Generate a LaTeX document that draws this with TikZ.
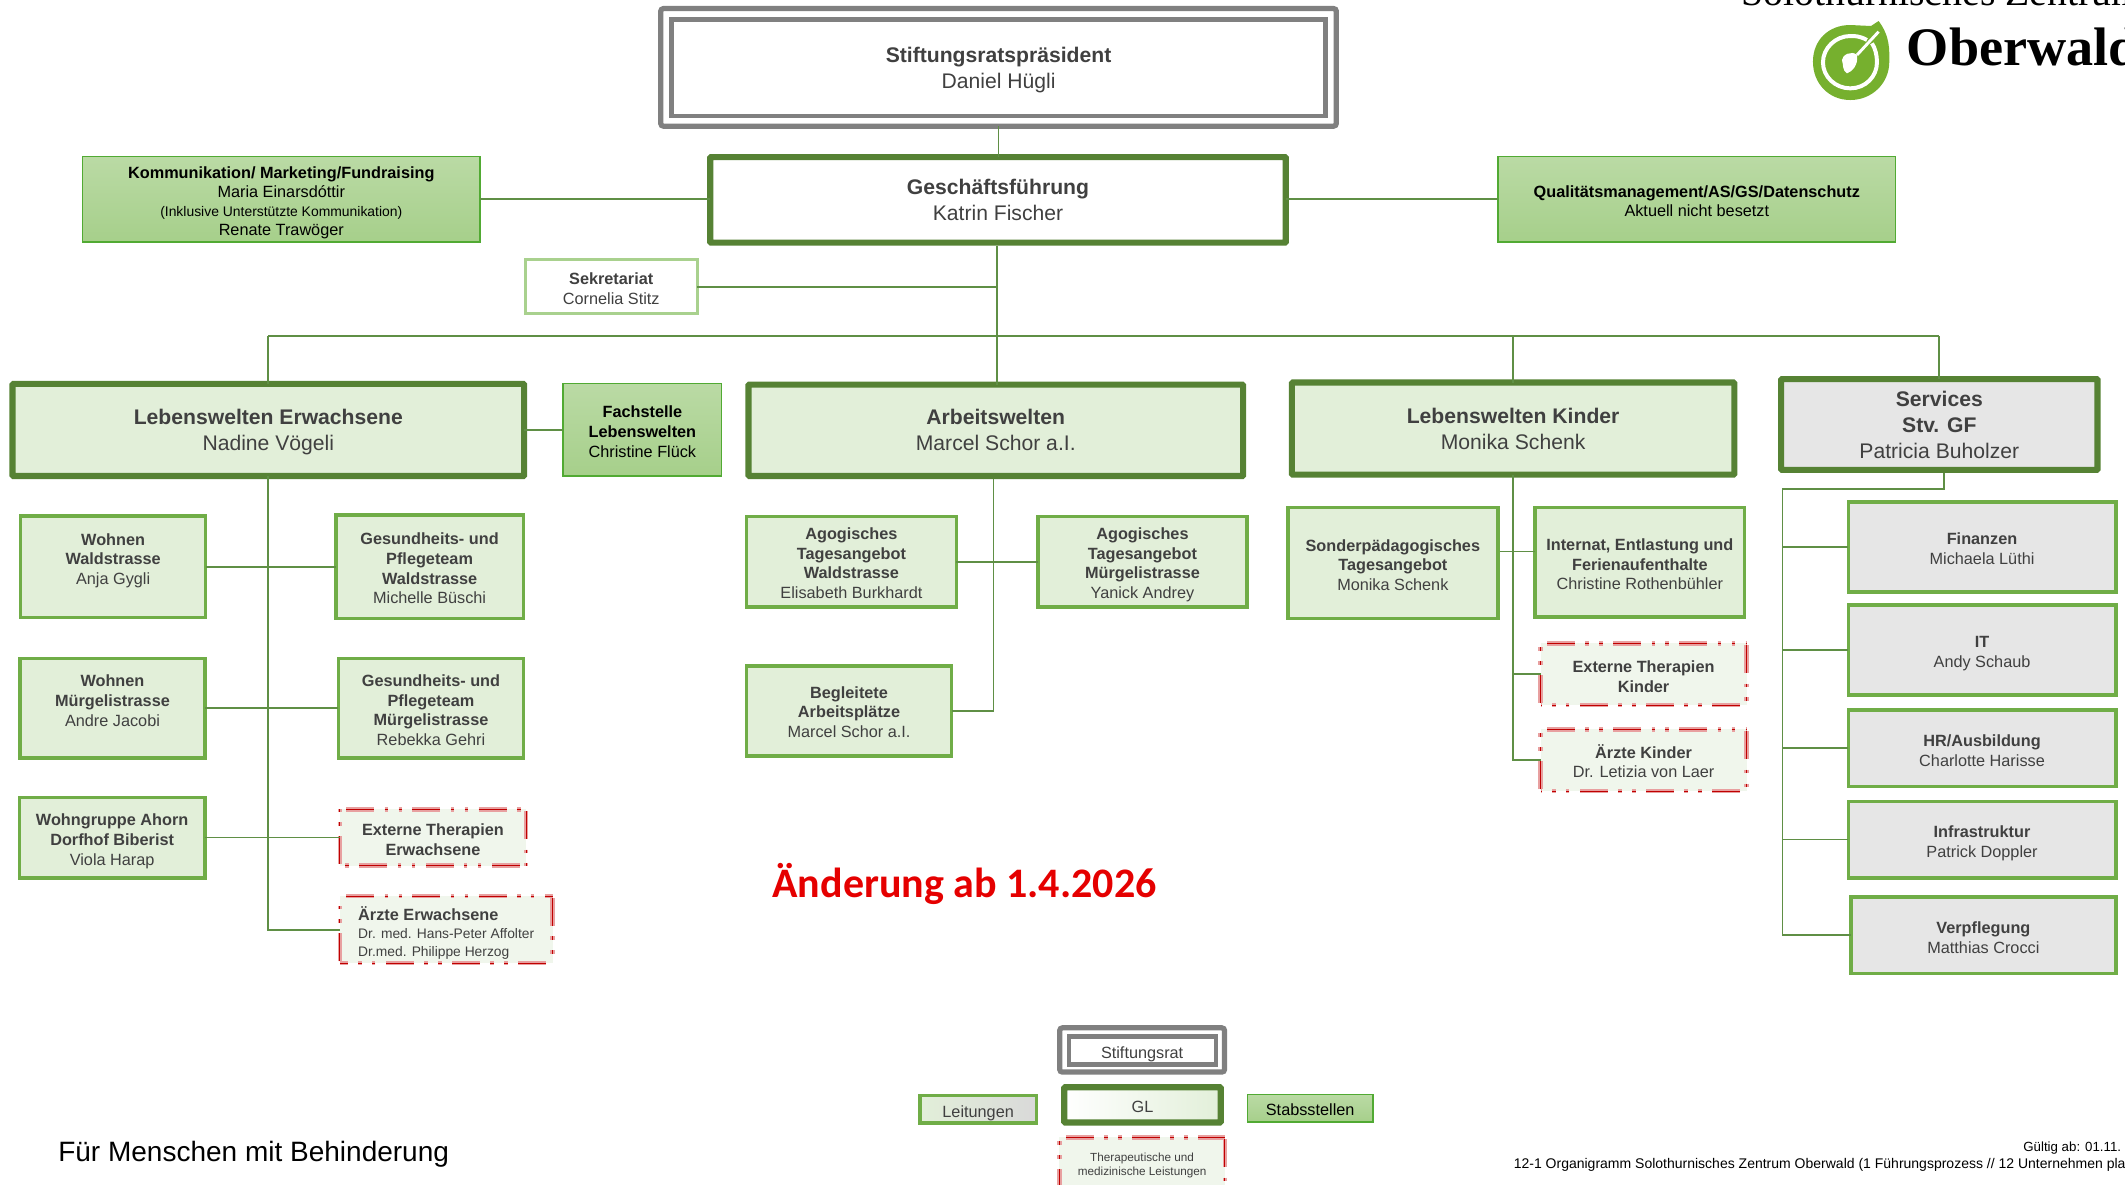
\documentclass[tikz,border=0pt]{standalone}
\usepackage{fontspec}
\setmainfont{Liberation Sans}
\newfontfamily\serifname{Liberation Serif}
\newfontfamily\calname{Carlito}
\definecolor{gdark}{HTML}{568234}
\definecolor{gmid}{HTML}{70AD47}
\definecolor{glight}{HTML}{A9D18E}
\definecolor{gfill}{HTML}{E2EFD9}
\definecolor{gpale}{HTML}{F0F6EC}
\definecolor{grayf}{HTML}{E6E6E6}
\definecolor{grayg}{HTML}{D9D9D9}
\definecolor{frame}{HTML}{808080}
\definecolor{conn}{HTML}{5F8F45}
\definecolor{txt}{HTML}{404040}
\definecolor{logog}{HTML}{76B02E}
\definecolor{redd}{HTML}{C00000}
\definecolor{redl}{HTML}{E8A0A0}
\tikzset{
  base/.style={rectangle,inner sep=0pt,outer sep=0pt,text=txt},
  big/.style={base,font=\fontsize{11.7}{14.4}\selectfont},
  small/.style={base,font=\fontsize{9}{10.9}\selectfont},
  frameout/.style={big,draw=frame,line width=2.9pt,rounded corners=1.5pt,fill=white},
  framein/.style={base,draw=frame,line width=2.5pt},
  lead/.style={big,draw=gdark,line width=3.4pt,rounded corners=.5pt,fill=gfill},
  leadw/.style={lead,fill=white},
  leadg/.style={lead,fill=grayf},
  leadgrad/.style={lead,left color=white,right color=gfill},
  staff/.style={small,text=black,draw=gmid!80!green!90!black,line width=.9pt,top color=glight!80!white,bottom color=glight!95!gmid},
  sub/.style={small,draw=gmid,line width=1.9pt,fill=gfill},
  subg/.style={sub,fill=grayf},
  subgrad/.style={sub,left color=gfill,right color=grayg},
  sek/.style={small,draw=glight,line width=1.5pt,fill=white},
  ext/.style={small,fill=gpale},
  redpat/.style={dash pattern=on 15.5pt off 5.7pt on 2pt off 5.7pt on 2pt off 5.7pt,dash phase=#1},
  redband/.style={draw=redl,line width=2.4pt,redpat=#1,postaction={draw=redd,line width=.6pt,redpat=#1}},
  line/.style={draw=conn,line width=.95pt},
  free/.style={inner sep=0pt,outer sep=0pt,anchor=base west},
}
% [column] name, style, x1, y1, x2, y2, y of the text's centre, text
\newcommand{\bx}[9][c]{%
  \pgfmathsetmacro\bxw{(#6-#4)*.75}%
  \pgfmathsetmacro\bxh{(#7-#5)*.75}%
  \pgfmathsetmacro\bxr{((#5+#7)/2-#8)*.75-4}%
  \node[#3,minimum width=\bxw pt-\pgflinewidth,minimum height=\bxh pt-\pgflinewidth] (#2)
    at ({(#4+#6)/2},{(#5+#7)/2})
    {\raisebox{\bxr pt}[0pt][0pt]{\begin{tabular}{@{}#1@{}}#9\end{tabular}}};}
% the dashed red frame: each side restarts the pattern, running clockwise
\newcommand{\redframe}[1]{%
  \draw[redband=33pt] (#1.north west) -- (#1.north east);
  \draw[redband=35.6pt] (#1.north east) -- (#1.south east);
  \draw[redband=33pt] (#1.south east) -- (#1.south west);
  \draw[redband=35.6pt] (#1.south west) -- (#1.north west);}
\begin{document}
\begin{tikzpicture}[x=.75pt,y=-.75pt]
\useasboundingbox (0,0) rectangle (1568,873.7);
\clip (0,0) rectangle (1568,873.7);

% top
\bx{stift}{frameout}{485.6}{4.4}{988}{95}{50.5}{\textbf{Stiftungsratspräsident}\\Daniel Hügli}
\bx{stifti}{framein}{493.7}{12.8}{979.7}{87.3}{50}{}
\bx{gf}{leadw}{521.8}{113.7}{951}{181.3}{148}{\textbf{Geschäftsführung}\\Katrin Fischer}
\bx{kom}{staff,font=\fontsize{9}{10.4}\selectfont}{60.3}{115}{354.8}{179}{147.5}{\textbf{Kommunikation/ Marketing/Fundraising}\\Maria Einarsdóttir\\{\fontsize{7.7}{9}\selectfont (Inklusive Unterstützte Kommunikation)}\\Renate Trawöger}
\bx{qua}{staff}{1104.8}{115}{1399.3}{179}{147.5}{\textbf{Qualitätsmanagement/AS/GS/Datenschutz}\\Aktuell nicht besetzt}
\bx{sek}{sek}{386.5}{190.6}{515.5}{232.5}{212}{\textbf{Sekretariat}\\Cornelia Stitz}

% second row
\bx{le}{lead}{7}{281}{389}{353.5}{318}{\textbf{Lebenswelten Erwachsene}\\Nadine Vögeli}
\bx{fach}{staff}{415}{282.5}{533}{352}{317.5}{\textbf{Fachstelle}\\\textbf{Lebenswelten}\\Christine Flück}
\bx{aw}{lead}{550}{281.5}{919.5}{353.5}{318}{\textbf{Arbeitswelten}\\Marcel Schor a.I.}
\bx{lk}{lead}{951}{280}{1282}{352.5}{317}{\textbf{Lebenswelten Kinder}\\Monika Schenk}
\bx{sv}{leadg}{1312}{277.5}{1550}{349}{314}{\textbf{Services}\\\textbf{Stv. GF}\\Patricia Buholzer}

% Lebenswelten Erwachsene
\bx{ww}{sub}{14}{379.6}{153}{456.9}{411.5}{\textbf{Wohnen}\\\textbf{Waldstrasse}\\Anja Gygli}
\bx{gw}{sub}{246.5}{378.8}{387.5}{457.6}{418.5}{\textbf{Gesundheits- und}\\\textbf{Pflegeteam}\\\textbf{Waldstrasse}\\Michelle Büschi}
\bx{wm}{sub}{13.5}{484.5}{152.5}{560.5}{516}{\textbf{Wohnen}\\\textbf{Mürgelistrasse}\\Andre Jacobi}
\bx{gm}{sub}{248.5}{484.5}{387.5}{560.5}{523}{\textbf{Gesundheits- und}\\\textbf{Pflegeteam}\\\textbf{Mürgelistrasse}\\Rebekka Gehri}
\bx{wg}{sub}{13}{587}{152.5}{649}{618.5}{\textbf{Wohngruppe Ahorn}\\\textbf{Dorfhof Biberist}\\Viola Harap}
\bx{exe}{ext}{250.5}{597}{388.5}{639}{618.5}{\textbf{Externe Therapien}\\\textbf{Erwachsene}}
\redframe{exe}
\bx[l]{aee}{ext,font=\fontsize{9}{10}\selectfont}{250.5}{661}{408}{711}{687}{\textbf{Ärzte Erwachsene}\\{\fontsize{7.65}{10}\selectfont Dr. med. Hans-Peter Affolter}\\{\fontsize{7.65}{10}\selectfont Dr.med. Philippe Herzog}}
\redframe{aee}

% Arbeitswelten
\bx{agw}{sub}{549.5}{380}{707}{449}{414.5}{\textbf{Agogisches}\\\textbf{Tagesangebot}\\\textbf{Waldstrasse}\\Elisabeth Burkhardt}
\bx{agm}{sub}{764.5}{380}{921.5}{449}{414.5}{\textbf{Agogisches}\\\textbf{Tagesangebot}\\\textbf{Mürgelistrasse}\\Yanick Andrey}
\bx{beg}{sub}{549.5}{490}{703.5}{559}{524.5}{\textbf{Begleitete}\\\textbf{Arbeitsplätze}\\Marcel Schor a.I.}

% Lebenswelten Kinder
\bx{son}{sub}{949}{373}{1106.5}{457.5}{416}{\textbf{Sonderpädagogisches}\\\textbf{Tagesangebot}\\Monika Schenk}
\bx{int}{sub}{1131.5}{373}{1288.5}{456.5}{415.5}{\textbf{Internat, Entlastung und}\\\textbf{Ferienaufenthalte}\\Christine Rothenbühler}
\bx{exk}{ext}{1136.5}{474.5}{1289}{520.5}{498.5}{\textbf{Externe Therapien}\\\textbf{Kinder}}
\redframe{exk}
\bx{aek}{ext}{1136.5}{538}{1289}{584}{561.5}{\textbf{Ärzte Kinder}\\Dr. Letizia von Laer}
\redframe{aek}

% Services
\bx{fin}{subg}{1362.5}{369}{1562.5}{438}{404}{\textbf{Finanzen}\\Michaela Lüthi}
\bx{itb}{subg}{1362.5}{445}{1562.5}{514}{480}{\textbf{IT}\\Andy Schaub}
\bx{hrb}{subg}{1362.5}{522.5}{1562.5}{581.5}{553}{\textbf{HR/Ausbildung}\\Charlotte Harisse}
\bx{inf}{subg}{1362.5}{590}{1562.5}{649}{620}{\textbf{Infrastruktur}\\Patrick Doppler}
\bx{ver}{subg}{1364.5}{660.5}{1562.5}{719.5}{691}{\textbf{Verpflegung}\\Matthias Crocci}

% connectors
\coordinate (gft) at (735.6,181.3);
\coordinate (bus) at (735.6,248);
\coordinate (awt) at (733,353.5);
\coordinate (kr) at (1106.5,407);
\coordinate (svt) at (1434.5,349);
\coordinate (svc) at (1315.3,361);
\draw[line] (stift.south) -- (stift.south |- gf.north);
\draw[line] (kom.east) -- (kom.east -| gf.west);
\draw[line] (qua.west) -- (qua.west -| gf.east);
\draw[line] (gft) -- (gft |- aw.north);
\draw[line] (sek.east) -- (sek.east -| gft);
\draw[line] (le.north |- bus) -- (sv.north |- bus);
\draw[line] (le.north) -- (le.north |- bus);
\draw[line] (lk.north) -- (lk.north |- bus);
\draw[line] (sv.north) -- (sv.north |- bus);
\draw[line] (le.east |- fach.west) -- (fach.west);
\draw[line] (le.south) |- (aee.west);
\draw[line] (ww.east) -- (ww.east -| gw.west);
\draw[line] (wm.east) -- (wm.east -| gm.west);
\draw[line] (wg.east) -- (wg.east -| exe.west);
\draw[line] (awt) |- (beg.east);
\draw[line] (agw.east) -- (agw.east -| agm.west);
\draw[line] (lk.south) |- (aek.west);
\draw[line] (kr) -- (kr -| int.west);
\draw[line] (lk.south |- exk.west) -- (exk.west);
\draw[line] (svt) |- (svc) -- (svc |- ver.west) -- (ver.west);
\draw[line] (svc |- fin.west) -- (fin.west);
\draw[line] (svc |- itb.west) -- (itb.west);
\draw[line] (svc |- hrb.west) -- (hrb.west);
\draw[line] (svc |- inf.west) -- (inf.west);

% legend
\bx{lsr}{frameout}{780}{756.5}{905.5}{793}{775.5}{\fontsize{9}{11}\selectfont Stiftungsrat}
\bx{lsi}{framein}{787}{763}{899}{787}{775}{}
\bx{lgl}{leadgrad}{783}{800}{903}{830.5}{816}{\fontsize{9}{11}\selectfont GL}
\bx{lle}{subgrad}{677.5}{807}{766}{830}{819.5}{\fontsize{9}{11}\selectfont Leitungen}
\bx{lst}{staff}{920}{807}{1013.5}{828.5}{818}{\fontsize{9}{11}\selectfont Stabsstellen}
\bx{lth}{ext,font=\fontsize{6.5}{7.9}\selectfont}{781.5}{839}{904}{885}{857}{Therapeutische und\\medizinische Leistungen}
\redframe{lth}

% free text
\node[free,text=red!90!black,font=\calname\bfseries\fontsize{23.25}{27}\selectfont] (chg) at (570,662) {Änderung ab 1.4.2026};
\node[free,text=black,font=\fontsize{15.5}{18}\selectfont] (claim) at (43,857) {Für Menschen mit Behinderung};
\node[free,text=black,font=\fontsize{7.35}{9}\selectfont] (valid) at (1493,850) {Gültig ab: 01.11.};
\node[free,text=black,font=\fontsize{7.75}{9}\selectfont] (ref) at (1117,862) {12-1 Organigramm Solothurnisches Zentrum Oberwald (1 Führungsprozess // 12 Unternehmen pla};
\node[free,text=black,font=\serifname\fontsize{22}{26}\selectfont] (org) at (1285,3.7) {Solothurnisches Zentrum};
\node[free,text=black,font=\serifname\bfseries\fontsize{30}{34}\selectfont] (obw) at (1407,48) {Oberwald};

% logo
\begin{scope}[shift={(1254.6,0)},x=.1845pt,y=-.1845pt]
  \fill[logog] (535,63) .. controls (570,110) and (567,150) .. (567,185)
    .. controls (567,250) and (515,300) .. (450,300)
    .. controls (385,300) and (338,250) .. (338,185)
    .. controls (338,120) and (385,75) .. (450,75) -- (512,78) -- cycle;
  \draw[white,line width=2.2pt] (500,120) .. controls (478,108) and (465,108) .. (450,108)
    .. controls (405,108) and (368,145) .. (368,187)
    .. controls (368,230) and (405,265) .. (450,265)
    .. controls (495,265) and (530,230) .. (530,187)
    .. controls (530,165) and (525,145) .. (515,130);
  \draw[white,line width=1.6pt] (535,95) -- (470,165);
  \fill[white] (470,165) .. controls (455,150) and (425,165) .. (425,180)
    .. controls (430,195) and (425,210) .. (440,220)
    .. controls (455,215) and (475,195) .. (470,165) -- cycle;
\end{scope}
\end{tikzpicture}
\end{document}
